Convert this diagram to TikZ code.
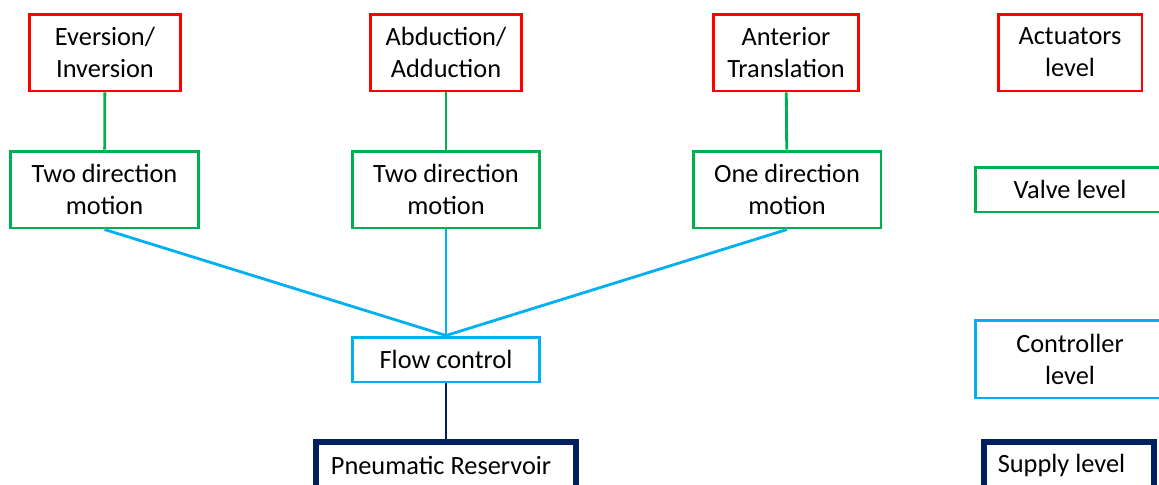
\documentclass[tikz,border=0pt]{standalone}
\usepackage{fontspec}
\setmainfont{Carlito}
\usetikzlibrary{positioning}

\definecolor{actred}{RGB}{255,0,0}
\definecolor{valvegreen}{RGB}{0,176,80}
\definecolor{ctrlblue}{RGB}{0,176,240}
\definecolor{supplynavy}{RGB}{0,32,96}

\tikzset{
  box/.style={draw,line width=1.7pt,align=center,inner sep=0pt,
    font=\fontsize{15}{18.2}\selectfont},
  actbox/.style={box,draw=actred,minimum width=3.04cm,minimum height=1.54cm},
  valvebox/.style={box,draw=valvegreen,minimum width=3.76cm,minimum height=1.54cm},
  ctrlbox/.style={box,draw=ctrlblue,minimum width=3.76cm,minimum height=0.9cm},
  supplybox/.style={box,draw=supplynavy,line width=2.9pt,minimum height=0.92cm},
  link/.style={line width=1.6pt}
}

\begin{document}
\begin{tikzpicture}[x=0.02cm,y=-0.02cm]
\useasboundingbox (0,0) rectangle (1159,484);
\clip (0,0) rectangle (1159,484);

% actuators
\node[actbox] (ever) at (105,52.5) {Eversion/\\Inversion};
\node[actbox] (abdu) at (446,52.5) {Abduction/\\Adduction};
\node[actbox,minimum width=2.9cm] (ante) at (786,52.5) {Anterior\\Translation};

% valves
\node[valvebox] (twoA) at (104.5,189.5) {Two direction\\motion};
\node[valvebox] (twoB) at (446,189.5) {Two direction\\motion};
\node[valvebox] (one) at (787,189.5) {One direction\\motion};

% controller and supply
\node[ctrlbox] (flow) at (446,359.5) {Flow control};
\node[supplybox,minimum width=5.2cm] (res) at (446,465) {Pneumatic Reservoir\hspace{0.2cm}};

\draw[link,valvegreen] (ever) -- (twoA);
\draw[link,valvegreen] (abdu) -- (twoB);
\draw[link,valvegreen] (ante) -- (one);

\draw[link,ctrlblue] (twoA.south) -- (flow.north);
\draw[link,ctrlblue] (twoB.south) -- (flow.north);
\draw[link,ctrlblue] (one.south) -- (flow.north);

\draw[link,supplynavy] (flow) -- (res);

% levels legend
\node[actbox,minimum width=2.88cm] (actlev) at (1070,52.5) {Actuators\\level};
\node[box,draw=valvegreen,minimum width=3.8cm,minimum height=0.9cm] (vallev) at (1070,189.5) {Valve level};
\node[box,draw=ctrlblue,minimum width=3.8cm,minimum height=1.56cm] (ctrllev) at (1070,359) {Controller\\level};
\node[supplybox,minimum width=3.4cm] (suplev) at (1069,465) {Supply level\hspace{0.3cm}};
\end{tikzpicture}
\end{document}
